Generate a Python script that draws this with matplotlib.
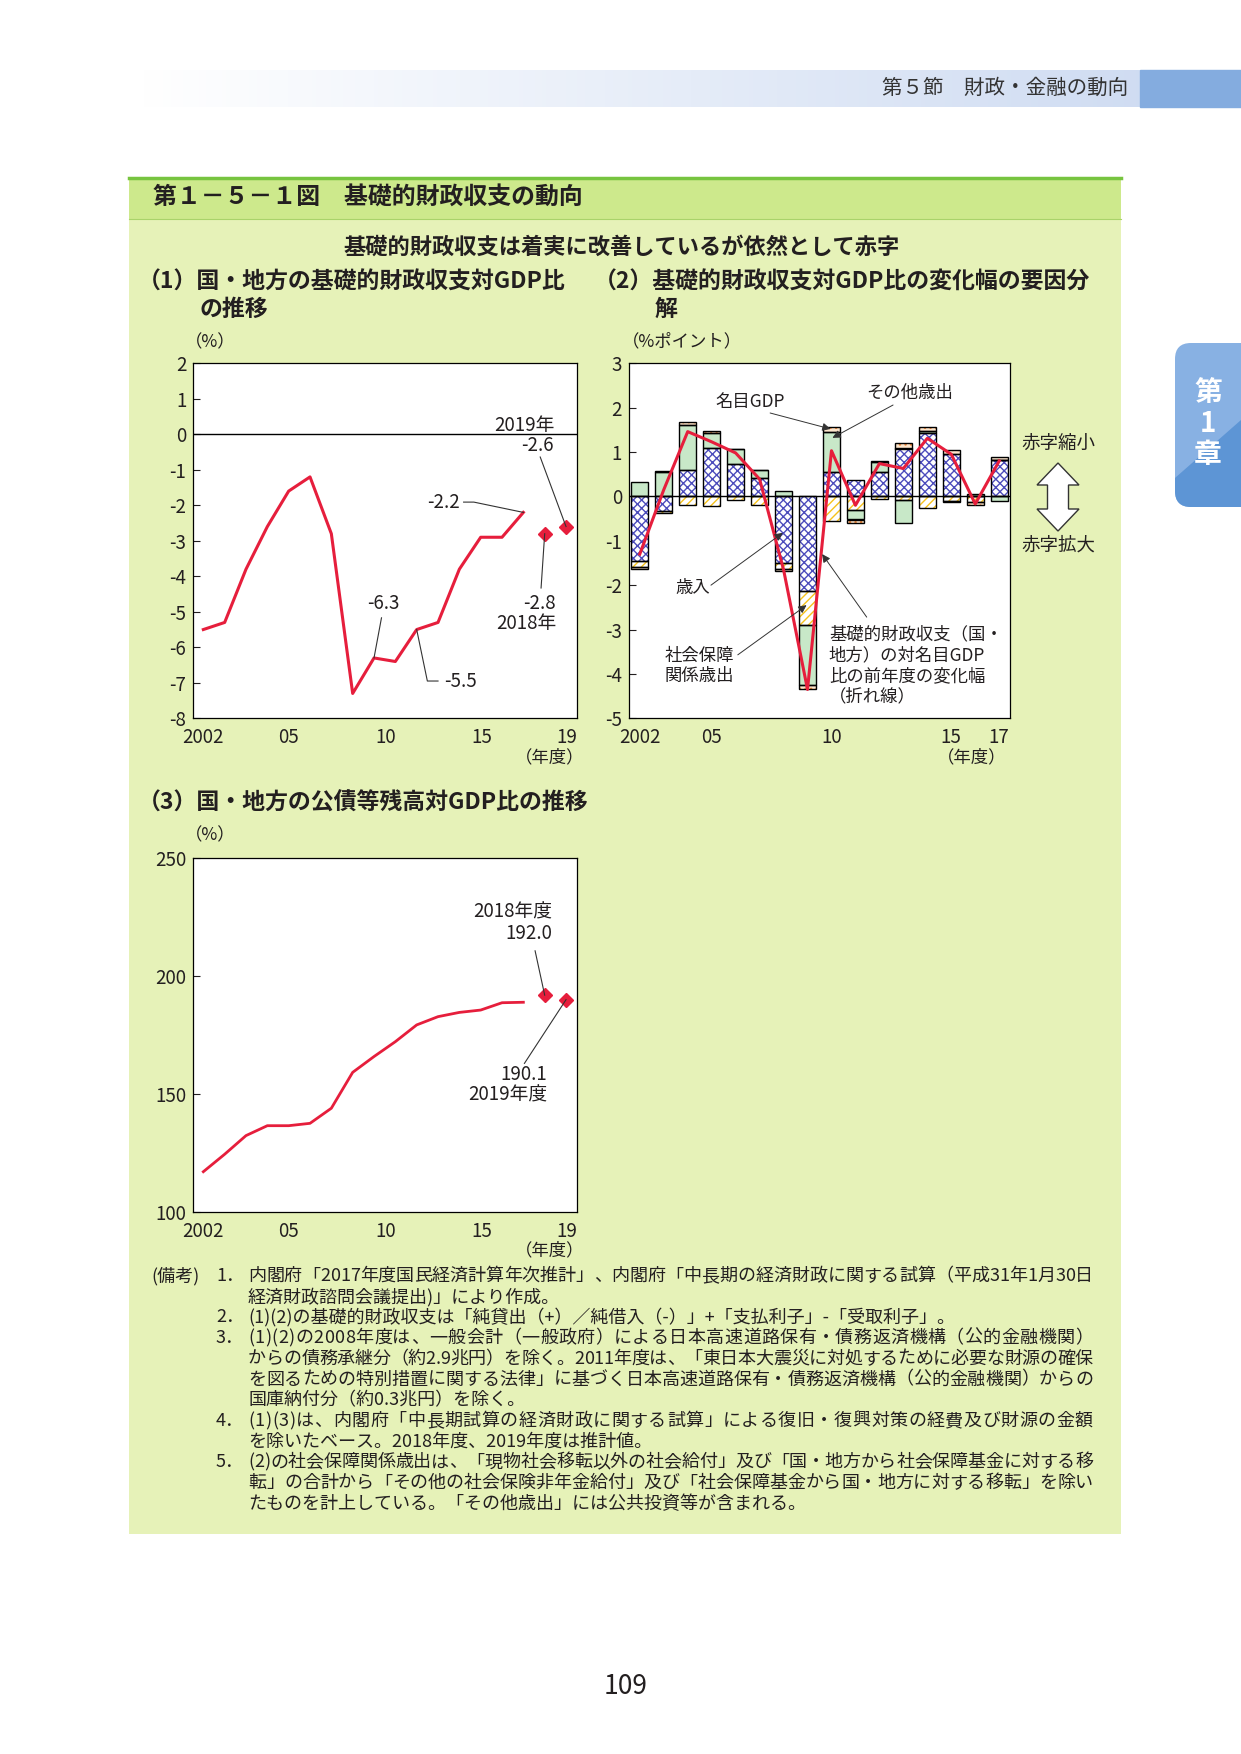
import numpy as np
import matplotlib.pyplot as plt
from matplotlib.patches import Rectangle, FancyBboxPatch, Polygon
from matplotlib.font_manager import FontProperties

plt.rcParams['font.family'] = ['Noto Sans CJK JP', 'DejaVu Sans']
plt.rcParams['hatch.linewidth'] = 1.0
plt.rcParams['axes.unicode_minus'] = False

# (1) primary balance, % of GDP
pb_years = np.arange(2002, 2018)
pb_values = [-5.5, -5.3, -3.8, -2.6, -1.6, -1.2, -2.8, -7.3, -6.3, -6.4, -5.5, -5.3, -3.8, -2.9, -2.9, -2.2]
pb_est_years = [2018, 2019]
pb_est_values = [-2.8, -2.6]

# (2) factor decomposition of the change, % points
fy = np.arange(2002, 2018)
revenue = [-1.46, -0.33, 0.59, 1.10, 0.74, 0.41, -1.49, -2.12, 0.54, 0.38, 0.54, 1.08, 1.44, 0.95, 0.0, 0.82]
social = [-0.14, -0.05, -0.20, -0.22, -0.09, -0.20, -0.14, -0.78, -0.56, -0.31, -0.05, -0.08, -0.27, -0.10, -0.12, 0.0]
other = [0.33, 0.54, 1.03, 0.34, 0.32, 0.18, 0.13, -1.35, 0.92, -0.21, 0.23, -0.53, 0.04, -0.03, 0.06, -0.10]
gdp = [-0.04, 0.03, 0.05, 0.03, 0.0, 0.0, -0.05, -0.10, 0.11, -0.07, 0.02, 0.13, 0.09, 0.10, -0.08, 0.07]
pb_change = [-1.3, 0.15, 1.46, 1.23, 0.98, 0.39, -1.65, -4.35, 1.03, -0.2, 0.74, 0.63, 1.31, 0.95, -0.17, 0.8]

# (3) public debt, % of GDP
debt_years = np.arange(2002, 2018)
debt_values = [117.2, 124.6, 132.5, 136.7, 136.7, 137.7, 144.1, 159.3, 166.0, 172.3, 179.4, 182.9, 184.7, 185.7, 188.8, 189.0]
debt_est_years = [2018, 2019]
debt_est_values = [192.0, 190.1]

ticks13 = [2002, 2006, 2010.55, 2015.05, 2019.05]
labels13 = ['2002', '05', '10', '15', '19']
ticks2 = [2002, 2005, 2010, 2015, 2017]
labels2 = ['2002', '05', '10', '15', '17']

notes = [
    ('1．', ['内閣府「2017年度国民経済計算年次推計」、内閣府「中長期の経済財政に関する試算（平成31年1月30日',
            '経済財政諮問会議提出)」により作成。']),
    ('2．', ['(1)(2)の基礎的財政収支は「純貸出（+）／純借入（-）」+「支払利子」-「受取利子」。']),
    ('3．', ['(1)(2)の2008年度は、一般会計（一般政府）による日本高速道路保有・債務返済機構（公的金融機関）',
            'からの債務承継分（約2.9兆円）を除く。2011年度は、「東日本大震災に対処するために必要な財源の確保',
            'を図るための特別措置に関する法律」に基づく日本高速道路保有・債務返済機構（公的金融機関）からの',
            '国庫納付分（約0.3兆円）を除く。']),
    ('4．', ['(1)(3)は、内閣府「中長期試算の経済財政に関する試算」による復旧・復興対策の経費及び財源の金額',
            'を除いたベース。2018年度、2019年度は推計値。']),
    ('5．', ['(2)の社会保障関係歳出は、「現物社会移転以外の社会給付」及び「国・地方から社会保障基金に対する移',
            '転」の合計から「その他の社会保険非年金給付」及び「社会保障基金から国・地方に対する移転」を除い',
            'たものを計上している。「その他歳出」には公共投資等が含まれる。']),
]

RED = '#e61e3c'
TXT = '#231f20'
W, H = 1241, 1754

fig = plt.figure(figsize=(W / 100, H / 100), dpi=100)
bg = fig.add_axes([0, 0, 1, 1])
bg.axis('off')

# page header band
grad = np.linspace(0, 1, 256)
band = np.zeros((1, 256, 3))
for i, c in enumerate([(1.0, 0.815), (1.0, 0.865), (1.0, 0.95)]):
    band[0, :, i] = c[0] + (c[1] - c[0]) * grad
bg.imshow(band, extent=(140, 1140, 107, 70), aspect='auto')
bg.add_patch(Rectangle((1140, 70), 101, 37, color='#84acdf'))
bg.text(1128, 88, '第５節　財政・金融の動向', ha='right', va='center', fontsize=14.8, color='#333333')

# chapter tab
tab = FancyBboxPatch((1175, 343), 90, 164, boxstyle='round,pad=0,rounding_size=16', fc='#88b1e3', ec='none')
bg.add_patch(tab)
dark = Polygon([(1175, 478), (1241, 420), (1241, 520), (1175, 520)], fc='#5d95d5', ec='none')
bg.add_patch(dark)
dark.set_clip_path(tab)
for s, yy in zip(['第', '1', '章'], [393, 424, 455]):
    bg.text(1208, yy, s, ha='center', va='center', fontsize=20, fontweight='bold', color='white')

# green frame
bg.add_patch(Rectangle((129, 177), 992, 1357, fc='#e6f2b8', ec='none'))
bg.add_patch(Rectangle((129, 177), 992, 42, fc='#cde98c', ec='none'))
bg.plot([129, 1121], [178, 178], color='#77c43f', lw=2.5)
bg.plot([129, 1121], [219, 219], color='#a9d36a', lw=0.8)
bg.text(153, 198, '第１－５－１図　基礎的財政収支の動向', va='center', fontsize=17.2, fontweight='bold', color=TXT)
bg.text(622, 247, '基礎的財政収支は着実に改善しているが依然として赤字', ha='center', va='center',
        fontsize=16, fontweight='bold', color=TXT)
tfs = 16.5
bg.text(138, 282, '（1）国・地方の基礎的財政収支対GDP比', va='center', fontsize=tfs, fontweight='bold', color=TXT)
bg.text(200, 309, 'の推移', va='center', fontsize=tfs, fontweight='bold', color=TXT)
bg.text(594, 282, '（2）基礎的財政収支対GDP比の変化幅の要因分', va='center', fontsize=tfs, fontweight='bold', color=TXT)
bg.text(655, 309, '解', va='center', fontsize=tfs, fontweight='bold', color=TXT)
bg.text(138, 803, '（3）国・地方の公債等残高対GDP比の推移', va='center', fontsize=tfs, fontweight='bold', color=TXT)

lfs = 12.5
bg.text(210, 342, '（%）', ha='center', va='center', fontsize=lfs, color=TXT)
bg.text(550, 757, '（年度）', ha='center', va='center', fontsize=lfs, color=TXT)
bg.text(682, 341, '（%ポイント）', ha='center', va='center', fontsize=lfs, color=TXT)
bg.text(972, 757, '（年度）', ha='center', va='center', fontsize=lfs, color=TXT)
bg.text(210, 835, '（%）', ha='center', va='center', fontsize=lfs, color=TXT)
bg.text(550, 1250, '（年度）', ha='center', va='center', fontsize=lfs, color=TXT)

# deficit shrink / expand arrow
cx = 1058
bg.text(cx, 444, '赤字縮小', ha='center', va='center', fontsize=13.3, color=TXT)
bg.text(cx, 546, '赤字拡大', ha='center', va='center', fontsize=13.3, color=TXT)
bg.add_patch(Polygon([(cx, 463), (cx + 21, 485), (cx + 10.5, 485), (cx + 10.5, 509), (cx + 21, 509),
                      (cx, 531), (cx - 21, 509), (cx - 10.5, 509), (cx - 10.5, 485), (cx - 21, 485)],
                     closed=True, fc='white', ec='#333333', lw=1))

# notes, justified like the printed page
nfs = 13
prop = FontProperties(family=['Noto Sans CJK JP', 'DejaVu Sans'], size=nfs)
renderer = fig.canvas.get_renderer()
x0, x1 = 248, 1093
y = 1276
bg.text(151, y, '(備考)', va='center', fontsize=nfs, color=TXT)
for num, lines in notes:
    bg.text(216, y, num, va='center', fontsize=nfs, color=TXT)
    for k, ln in enumerate(lines):
        if k == len(lines) - 1:
            bg.text(x0, y, ln, va='center', fontproperties=prop, color=TXT)
        else:
            widths = [renderer.get_text_width_height_descent(ch, prop, ismath=False)[0] for ch in ln]
            gap = (x1 - x0 - sum(widths)) / (len(ln) - 1)
            xx = x0
            for ch, w in zip(ln, widths):
                bg.text(xx, y, ch, va='center', fontproperties=prop, color=TXT)
                xx += w + gap
        y += 20.7

bg.text(626, 1686, '109', ha='center', va='center', fontsize=19, color=TXT)
bg.set_xlim(0, W)
bg.set_ylim(H, 0)


def make_axes(left, top, right, bottom):
    ax = fig.add_axes([left / W, 1 - bottom / H, (right - left) / W, (bottom - top) / H])
    ax.set_facecolor('white')
    for sp in ax.spines.values():
        sp.set_linewidth(0.9)
    ax.tick_params(axis='y', direction='in', length=5, width=0.8, labelsize=13.5, pad=5, colors=TXT)
    ax.tick_params(axis='x', length=0, labelsize=13.5, pad=6, colors=TXT)
    return ax


# ---- panel 1
ax1 = make_axes(193.3, 363.3, 576.7, 718.3)
ax1.set_xlim(2001.53, 2019.5)
ax1.set_ylim(-8, 2)
ax1.set_yticks(range(-8, 3))
ax1.set_xticks(ticks13)
ax1.set_xticklabels(labels13)
ax1.axhline(0, color='black', lw=1)
ax1.plot(pb_years, pb_values, color=RED, lw=2.2)
ax1.plot(pb_est_years, pb_est_values, 'D', color=RED, ms=7, ls='none')
fs = 13.5
ax1.text(2018.44, 0.26, '2019年', ha='right', va='center', fontsize=fs, color=TXT)
ax1.text(2018.44, -0.31, '-2.6', ha='right', va='center', fontsize=fs, color=TXT)
ax1.plot([2017.79, pb_est_years[1]], [-0.64, pb_est_values[1]], color='#333333', lw=0.8)
ax1.text(2014.02, -1.91, '-2.2', ha='right', va='center', fontsize=fs, color=TXT)
ax1.plot([2014.2, 2014.68, pb_years[-1]], [-1.91, -1.91, pb_values[-1]], color='#333333', lw=0.8)
ax1.text(2010.43, -4.78, '-6.3', ha='center', va='center', fontsize=fs, color=TXT)
ax1.plot([2010.35, pb_years[8]], [-5.17, pb_values[8]], color='#333333', lw=0.8)
ax1.text(2014.06, -6.95, '-5.5', ha='center', va='center', fontsize=fs, color=TXT)
ax1.plot([pb_years[10], 2012.5, 2013.0], [pb_values[10], -6.95, -6.95], color='#333333', lw=0.8)
ax1.text(2018.53, -4.78, '-2.8', ha='right', va='center', fontsize=fs, color=TXT)
ax1.text(2018.53, -5.34, '2018年', ha='right', va='center', fontsize=fs, color=TXT)
ax1.plot([pb_est_years[0], 2017.83], [pb_est_values[0], -4.33], color='#333333', lw=0.8)

# ---- panel 2
ax2 = make_axes(629, 363.3, 1010, 718.3)
ax2.set_xlim(2001.55, 2017.45)
ax2.set_ylim(-5, 3)
ax2.set_yticks(range(-5, 4))
ax2.set_xticks(ticks2)
ax2.set_xticklabels(labels2)
styles = [
    dict(fc='white', hc='#4c4cbc', hatch='xxxx'),
    dict(fc='white', hc='#f6c21c', hatch='////'),
    dict(fc='#c8e8c8', hc='#c8e8c8', hatch=None),
    dict(fc='#fde6cc', hc='#f0883a', hatch='...'),
]
pos_b = np.zeros(len(fy))
neg_b = np.zeros(len(fy))
for vals, st in zip([revenue, social, other, gdp], styles):
    v = np.array(vals)
    bottom = np.where(v >= 0, pos_b, neg_b)
    ax2.bar(fy, v, width=0.7, bottom=bottom, color=st['fc'], edgecolor=st['hc'],
            hatch=st['hatch'], linewidth=0, zorder=2)
    ax2.bar(fy, v, width=0.7, bottom=bottom, fill=False, edgecolor='black', linewidth=1.0, zorder=3)
    pos_b += np.where(v > 0, v, 0)
    neg_b += np.where(v < 0, v, 0)
ax2.axhline(0, color='black', lw=1, zorder=3.5)
ax2.plot(fy, pb_change, color=RED, lw=2.2, zorder=4)

afs = 12.5
arr = dict(arrowstyle='-|>', color='#333333', lw=0.7, mutation_scale=12, shrinkA=0, shrinkB=0)
ax2.text(2006.6, 2.13, '名目GDP', ha='center', va='center', fontsize=afs, color=TXT, zorder=5)
ax2.annotate('', xy=(2009.96, 1.52), xytext=(2007.44, 1.88), arrowprops=arr, zorder=5)
ax2.text(2013.28, 2.33, 'その他歳出', ha='center', va='center', fontsize=afs, color=TXT, zorder=5)
ax2.annotate('', xy=(2010.04, 1.32), xytext=(2012.57, 2.06), arrowprops=arr, zorder=5)
ax2.text(2004.2, -2.06, '歳入', ha='center', va='center', fontsize=afs, color=TXT, zorder=5)
ax2.annotate('', xy=(2007.97, -0.82), xytext=(2004.97, -2.0), arrowprops=arr, zorder=5)
ax2.text(2004.49, -3.82, '社会保障\n関係歳出', ha='center', va='center', fontsize=afs, color=TXT,
         linespacing=1.2, zorder=5)
ax2.annotate('', xy=(2008.96, -2.45), xytext=(2006.09, -3.57), arrowprops=arr, zorder=5)
ax2.text(2009.89, -3.81, '基礎的財政収支（国・\n地方）の対名目GDP\n比の前年度の変化幅\n（折れ線）',
         ha='left', va='center', fontsize=afs, color=TXT, linespacing=1.2, zorder=5)
ax2.annotate('', xy=(2009.61, -1.30), xytext=(2011.47, -2.72), arrowprops=arr, zorder=5)

# ---- panel 3
ax3 = make_axes(193.3, 858.3, 576.7, 1212.3)
ax3.set_xlim(2001.53, 2019.5)
ax3.set_ylim(100, 250)
ax3.set_yticks([100, 150, 200, 250])
ax3.set_xticks(ticks13)
ax3.set_xticklabels(labels13)
ax3.plot(debt_years, debt_values, color=RED, lw=2)
ax3.plot(debt_est_years, debt_est_values, 'D', color=RED, ms=7, ls='none')
ax3.text(2018.35, 227.4, '2018年度', ha='right', va='center', fontsize=fs, color=TXT)
ax3.text(2018.35, 218.3, '192.0', ha='right', va='center', fontsize=fs, color=TXT)
ax3.plot([2017.55, debt_est_years[0]], [210.8, debt_est_values[0]], color='#333333', lw=0.8)
ax3.text(2018.1, 158.6, '190.1', ha='right', va='center', fontsize=fs, color=TXT)
ax3.text(2018.1, 149.7, '2019年度', ha='right', va='center', fontsize=fs, color=TXT)
ax3.plot([2017.05, debt_est_years[1]], [163.1, debt_est_values[1]], color='#333333', lw=0.8)

fig.savefig('out.png', dpi=100)
